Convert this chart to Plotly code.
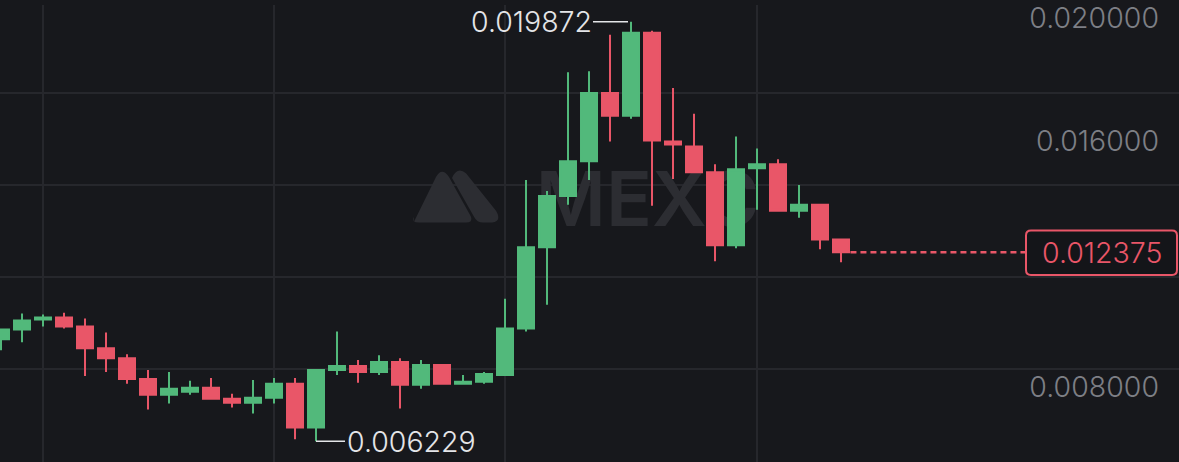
import plotly.graph_objects as go

# ---------------- data ----------------
candle_idx = list(range(41))
open_ = [0.009542, 0.009864, 0.010186, 0.010250, 0.009960, 0.009253, 0.008931, 0.008255,
         0.007740, 0.007837, 0.007965, 0.007612, 0.007483, 0.007644, 0.008094, 0.006678,
         0.008545, 0.008673, 0.008480, 0.008802, 0.008062, 0.008706, 0.008094, 0.008159,
         0.008384, 0.009896, 0.012535, 0.014208, 0.015334, 0.017554, 0.016814, 0.019517,
         0.015978, 0.015817, 0.014980, 0.012599, 0.015109, 0.015238, 0.013725, 0.013918,
         0.012792]
high = [0.009896, 0.010379, 0.010347, 0.010411, 0.010218, 0.009767, 0.009060, 0.008545,
        0.008480, 0.008191, 0.008287, 0.007772, 0.008223, 0.008287, 0.008287, 0.008545,
        0.009800, 0.008866, 0.009027, 0.008931, 0.008866, 0.008706, 0.008384, 0.008480,
        0.010861, 0.014723, 0.014369, 0.018230, 0.018262, 0.019453, 0.019872, 0.019581,
        0.017715, 0.016879, 0.015238, 0.016138, 0.015752, 0.015398, 0.014562, 0.013918,
        0.012792]
low = [0.009188, 0.009446, 0.009960, 0.009896, 0.008352, 0.008480, 0.008094, 0.007258,
       0.007451, 0.007740, 0.007579, 0.007322, 0.007129, 0.007451, 0.006292, 0.006229,
       0.008384, 0.008126, 0.008384, 0.007290, 0.007933, 0.008094, 0.008094, 0.008094,
       0.008384, 0.009800, 0.010668, 0.013918, 0.014723, 0.015978, 0.016718, 0.013886,
       0.014755, 0.014980, 0.012084, 0.012502, 0.013757, 0.013725, 0.013500, 0.012470,
       0.012052]
close = [0.009864, 0.010154, 0.010250, 0.009960, 0.009253, 0.008931, 0.008255, 0.007740,
         0.007933, 0.007965, 0.007612, 0.007483, 0.007644, 0.008094, 0.006678, 0.008545,
         0.008673, 0.008480, 0.008802, 0.008062, 0.008706, 0.008094, 0.008159, 0.008416,
         0.009896, 0.012535, 0.014208, 0.015334, 0.017554, 0.016814, 0.019517, 0.016010,
         0.015881, 0.014980, 0.012599, 0.015077, 0.015238, 0.013725, 0.013918, 0.012792,
         0.012375]

# 0.012000 is hidden behind the last-price tag in the reference
y_tick_vals = [0.008, 0.016, 0.020]
y_tick_text = ["0.008000", "0.016000", "0.020000"]
grid_levels = [0.017554, 0.014562, 0.011569, 0.008577]
x_grid_idx = [2, 13, 24, 36]
last_price = 0.012375
high_idx, high_val = 30, 0.019872
low_idx, low_val = 15, 0.006229

# ---------------- styling ----------------
W, H = 1179, 462
BG = "#17181c"
GRID = "#26272c"
UP = "#52b97b"
DOWN = "#e95668"
AXIS_TXT = "#7d7f85"
LABEL_TXT = "#e4e5e8"
WM = "#2c2d32"
FONT = "Inter"
FS = 28.5
FW = 300

x_range = [-0.048, 56.095]
y_range = [0.005552, 0.020418]


def fx(px):
    return px / W


def fy(py):
    return 1 - py / H


fig = go.Figure()
fig.add_trace(go.Candlestick(
    x=candle_idx, open=open_, high=high, low=low, close=close,
    increasing=dict(line=dict(color=UP, width=2), fillcolor=UP),
    decreasing=dict(line=dict(color=DOWN, width=2), fillcolor=DOWN),
    whiskerwidth=0, showlegend=False,
))

shapes = []
# horizontal grid lines
for g in grid_levels:
    shapes.append(dict(type="line", xref="paper", yref="y", x0=0, x1=1, y0=g, y1=g,
                       line=dict(color=GRID, width=2), layer="between"))


def poly(points, closed=True):
    s = ""
    for cmd, pts in points:
        s += cmd + " " + " ".join(f"{fx(a):.5f},{fy(b):.5f}" for a, b in pts) + " "
    return s + ("Z" if closed else "")


# watermark logo
tri = poly([("M", [(414, 219)]), ("L", [(436, 174)]), ("Q", [(442, 163), (449, 174)]),
            ("L", [(471, 214)]), ("Q", [(473, 220), (466, 220)]), ("L", [(419, 220)]),
            ("Q", [(411, 220), (414, 214)])])
bar = poly([("M", [(452, 175)]), ("Q", [(457, 163), (466, 170)]), ("L", [(496, 208)]),
            ("Q", [(503, 220), (489, 220)]), ("L", [(483, 220)]), ("Q", [(477, 220), (474, 214)])])
shapes.append(dict(type="path", xref="paper", yref="paper", path=tri, fillcolor=WM,
                   line=dict(width=0), layer="below"))
shapes.append(dict(type="path", xref="paper", yref="paper", path=bar, fillcolor=WM,
                   line=dict(width=0), layer="below"))
shapes.append(dict(type="rect", xref="paper", yref="paper", x0=fx(515), x1=fx(780),
                   y0=fy(226), y1=fy(160), line=dict(width=0), fillcolor="rgba(0,0,0,0)",
                   layer="below",
                   label=dict(text="MEXC", textposition="middle center",
                              font=dict(size=76, color=WM, family=FONT, weight=600))))

# last price dashed line
shapes.append(dict(type="line", xref="x", yref="y", x0=40.45, x1=50, y0=last_price, y1=last_price,
                   line=dict(color=DOWN, width=2.5, dash="6px,4px"), layer="above"))

# price tag rounded box
r = 5
x0, x1, y0, y1 = 1026, 1177, 228, 273
tag = poly([("M", [(x0 + r, y0)]), ("L", [(x1 - r, y0)]), ("Q", [(x1, y0), (x1, y0 + r)]),
            ("L", [(x1, y1 - r)]), ("Q", [(x1, y1), (x1 - r, y1)]), ("L", [(x0 + r, y1)]),
            ("Q", [(x0, y1), (x0, y1 - r)]), ("L", [(x0, y0 + r)]), ("Q", [(x0, y0), (x0 + r, y0)])])
shapes.append(dict(type="path", xref="paper", yref="paper", path=tag, fillcolor="#141519",
                   line=dict(color=DOWN, width=2), layer="above"))

annotations = [
    dict(x=fx(1101.5), xref="paper", y=last_price, yref="y", text="0.012375", showarrow=False,
         xanchor="center", yanchor="middle", font=dict(family=FONT, size=FS, color=DOWN, weight=FW)),
    dict(x=high_idx, y=high_val, xref="x", yref="y", text="0.019872", showarrow=True,
         arrowhead=0, arrowwidth=1.5, arrowcolor=LABEL_TXT, ax=-100, ay=0, standoff=3,
         font=dict(family=FONT, size=FS, color=LABEL_TXT, weight=FW)),
    dict(x=low_idx, y=low_val, xref="x", yref="y", text="0.006229", showarrow=True,
         arrowhead=0, arrowwidth=1.5, arrowcolor=LABEL_TXT, ax=95, ay=0, standoff=0,
         font=dict(family=FONT, size=FS, color=LABEL_TXT, weight=FW)),
]

fig.update_layout(
    width=W, height=H,
    margin=dict(l=0, r=0, t=0, b=0),
    paper_bgcolor=BG, plot_bgcolor=BG,
    boxgap=0.238, boxgroupgap=0,
    shapes=shapes, annotations=annotations,
    showlegend=False,
    hovermode=False,
    xaxis=dict(range=x_range, rangeslider=dict(visible=False), showticklabels=False,
               tickvals=x_grid_idx, showgrid=True, gridcolor=GRID, gridwidth=2,
               zeroline=False, showline=False, ticks="", fixedrange=True),
    yaxis=dict(range=y_range, side="right", ticklabelposition="inside",
               tickvals=y_tick_vals, ticktext=y_tick_text, showgrid=False, zeroline=False,
               showline=False, ticks="", ticklabelstandoff=17, ticklabeloverflow="allow",
               tickfont=dict(family=FONT, size=FS, color=AXIS_TXT, weight=FW), fixedrange=True),
)

fig.write_html(
    "out.html",
    config={"displayModeBar": False, "staticPlot": True},
    post_script="document.body.style.margin='0';document.body.style.background='%s';" % BG,
)
